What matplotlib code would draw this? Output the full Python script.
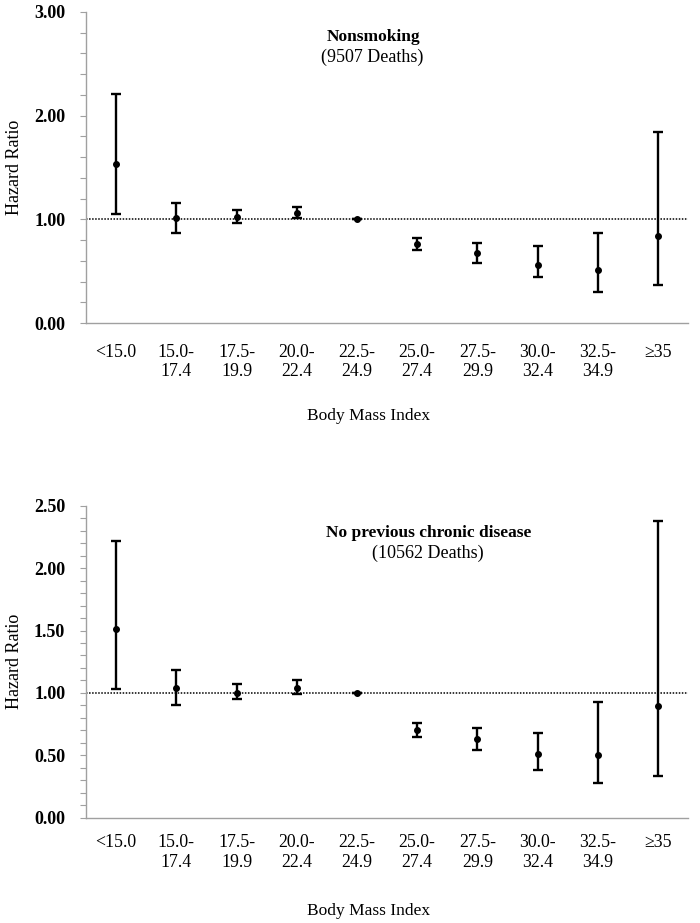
import matplotlib
matplotlib.use("Agg")
import matplotlib.pyplot as plt
from matplotlib.ticker import MultipleLocator, FormatStrFormatter

plt.rcParams['font.family'] = ['Liberation Serif', 'DejaVu Serif']

categories = ["<15.0", "15.0-\n17.4", "17.5-\n19.9", "20.0-\n22.4", "22.5-\n24.9",
              "25.0-\n27.4", "27.5-\n29.9", "30.0-\n32.4", "32.5-\n34.9", "\u226535"]

# Panel 1: Nonsmoking
hr_nonsmoking = [1.53, 1.01, 1.02, 1.06, 1.00, 0.76, 0.68, 0.56, 0.51, 0.84]
lo_nonsmoking = [1.05, 0.87, 0.96, 1.01, 1.00, 0.70, 0.58, 0.44, 0.30, 0.37]
hi_nonsmoking = [2.21, 1.16, 1.09, 1.12, 1.00, 0.82, 0.77, 0.74, 0.87, 1.84]

# Panel 2: No previous chronic disease
hr_nochronic = [1.51, 1.04, 1.00, 1.04, 1.00, 0.705, 0.63, 0.51, 0.50, 0.895]
lo_nochronic = [1.03, 0.90, 0.95, 0.99, 1.00, 0.65, 0.545, 0.38, 0.275, 0.335]
hi_nochronic = [2.22, 1.18, 1.07, 1.10, 1.00, 0.76, 0.72, 0.68, 0.925, 2.38]

titles = [("Nonsmoking", "(9507 Deaths)"),
          ("No previous chronic disease", "(10562 Deaths)")]

W, H = 700, 923
fig = plt.figure(figsize=(W / 100, H / 100), dpi=100)

panels = [
    dict(rect=[86 / W, (H - 323) / H, 602 / W, 311 / H], hr=hr_nonsmoking, lo=lo_nonsmoking,
         hi=hi_nonsmoking, ymax=3.0, major=1.0, minor=0.2, title=titles[0],
         t1=(0.478, 0.921), t2=(0.476, 0.854), xpad=15),
    dict(rect=[86 / W, (H - 817.7) / H, 602 / W, 312 / H], hr=hr_nochronic, lo=lo_nochronic,
         hi=hi_nochronic, ymax=2.5, major=0.5, minor=0.1, title=titles[1],
         t1=(0.570, 0.9125), t2=(0.567, 0.848), xpad=12),
]

grey = "#a0a0a0"
for p in panels:
    ax = fig.add_axes(p["rect"])
    x = list(range(len(categories)))
    yerr = [[h - l for h, l in zip(p["hr"], p["lo"])],
            [u - h for h, u in zip(p["hr"], p["hi"])]]
    ax.axhline(1.0, color="black", linestyle=(0, (1, 1.0)), linewidth=1.1, zorder=1)
    ax.errorbar(x, p["hr"], yerr=yerr, fmt="o", color="black", ecolor="black",
                elinewidth=1.7, capsize=3.8, capthick=1.7, markersize=4.0, zorder=3)
    ax.set_xlim(-0.5, len(categories) - 0.5)
    ax.set_ylim(0, p["ymax"])
    ax.yaxis.set_major_locator(MultipleLocator(p["major"]))
    ax.yaxis.set_minor_locator(MultipleLocator(p["minor"]))
    ax.yaxis.set_major_formatter(FormatStrFormatter("%.2f"))
    ax.set_xticks(x)
    ax.set_xticklabels(categories, fontsize=12.8, linespacing=1.2)
    ax.tick_params(axis="x", length=0, pad=p["xpad"])
    ax.tick_params(axis="y", which="both", direction="out", length=4, width=0.8,
                   color=grey, pad=11)
    for lab in ax.get_yticklabels():
        lab.set_fontweight("bold")
        lab.set_fontsize(13)
    for s in ["top", "right"]:
        ax.spines[s].set_visible(False)
    for s in ["left", "bottom"]:
        ax.spines[s].set_color(grey)
        ax.spines[s].set_linewidth(1.0)
    ax.set_xlabel("Body Mass Index", fontsize=12.5, va="center")
    ax.xaxis.set_label_coords(0.47, -0.30)
    ax.set_ylabel("Hazard Ratio", fontsize=13, va="center")
    ax.yaxis.set_label_coords(-0.119, 0.5)
    ax.text(p["t1"][0], p["t1"][1], p["title"][0], transform=ax.transAxes,
            ha="center", va="center", fontsize=12.5, fontweight="bold")
    ax.text(p["t2"][0], p["t2"][1], p["title"][1], transform=ax.transAxes,
            ha="center", va="center", fontsize=13)

fig.savefig("out.png", dpi=100)
